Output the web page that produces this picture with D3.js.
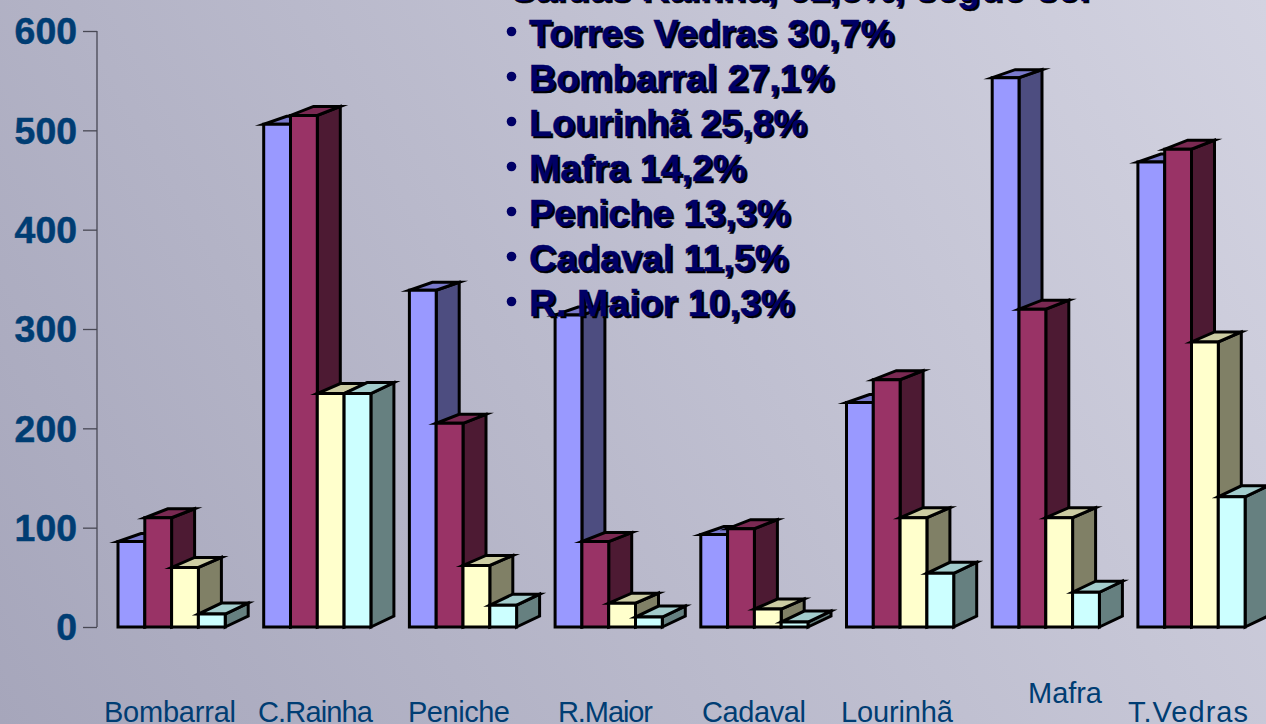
<!DOCTYPE html>
<html><head><meta charset="utf-8">
<script src="https://cdn.jsdelivr.net/npm/d3@7"></script>
<style>html,body{margin:0;padding:0;overflow:hidden;background:#bbbbcc}svg{display:block}</style>
</head><body><svg id="c" width="1266" height="724"></svg>
<script>
const categories = ["Bombarral","C.Rainha","Peniche","R.Maior","Cadaval","Lourinhã","Mafra","T.Vedras"];
const serieA = [86,506,339,314,93,226,553,468];
const serieB = [110,515,205,86,99,249,320,481];
const serieC = [60,235,62,24,18,110,110,287];
const serieD = [13,235,22,10,5,54,35,131];
const yTicks = [0,100,200,300,400,500,600];
const titleText = "Saídas Rainha, 61,5%, segue-se:";
const bullets = ["Torres Vedras 30,7%","Bombarral 27,1%","Lourinhã 25,8%","Mafra 14,2%","Peniche 13,3%","Cadaval 11,5%","R. Maior 10,3%"];

const W=1266,H=724;
const svg=d3.select("#c");
const defs=svg.append("defs");
const g=defs.append("linearGradient").attr("id","bg").attr("gradientUnits","userSpaceOnUse")
  .attr("x1",0).attr("y1",724).attr("x2",1266).attr("y2",0);
[[0,"#a6a6bb"],[1,"#d3d3e1"]].forEach(s=>g.append("stop").attr("offset",s[0]).attr("stop-color",s[1]));
svg.append("rect").attr("width",W).attr("height",H).attr("fill","url(#bg)");

const y=d3.scaleLinear().domain([0,600]).range([627,31]);
const x0=d3.scaleBand().domain(categories).range([118,1283.6]).paddingInner(0).paddingOuter(0);
const barW=26.8;
const series=[
 {vals:serieA,front:"#9999ff",side:"#4d4d80",top:"#7a7acc",dy:8},
 {vals:serieB,front:"#993366",side:"#4d1a33",top:"#7a2952",dy:9},
 {vals:serieC,front:"#ffffcc",side:"#808066",top:"#cccca3",dy:10},
 {vals:serieD,front:"#ccffff",side:"#668080",top:"#a3cccc",dy:11}];
const dx=23;
const bars=svg.append("g").attr("stroke","#000").attr("stroke-width",3).attr("stroke-linejoin","miter").attr("stroke-miterlimit",20);
categories.forEach((c,i)=>{
  series.forEach((s,k)=>{
    const l=x0(c)+k*barW,r=l+barW,t=y(s.vals[i]),b=y(0),dy=s.dy;
    const G=bars.append("g");
    const P=(pts,f)=>G.append("path").attr("d",d3.line()(pts)+"Z").attr("fill",f);
    P([[r,b],[r+dx,b-dy],[r+dx,t-dy],[r,t]],s.side);
    P([[l,t],[r,t],[r+dx,t-dy],[l+dx,t-dy]],s.top);
    P([[l,t],[r,t],[r,b],[l,b]],s.front);
  });
});

// y axis
const ax=svg.append("g").attr("transform","translate(97,0)").call(d3.axisLeft(y).tickValues(yTicks).tickSize(14).tickPadding(6));
ax.selectAll("path,line").attr("stroke","#484854").attr("stroke-width",1.3);
ax.select(".domain").attr("d","M0,31V627");
ax.selectAll("text").attr("fill","#003d73").attr("stroke","#003d73").attr("stroke-width",0.5).attr("font-family","'Liberation Sans'").attr("font-weight","bold").attr("font-size",37.4).attr("dy","0.34em");

// category labels
const catBox={"Bombarral":[104,132,721.5],"C.Rainha":[258,115,721.5],"Peniche":[408,102,721.5],"R.Maior":[558,95,721.5],"Cadaval":[702,104,721.5],"Lourinhã":[841,112,721.5],"Mafra":[1028,74,702.5],"T.Vedras":[1128,120,721.5]};
svg.append("g").selectAll("text").data(categories).join("text")
  .attr("x",d=>catBox[d][0]).attr("y",d=>catBox[d][2])
  .attr("textLength",d=>catBox[d][1]).attr("lengthAdjust","spacing")
  .attr("fill","#003d73")
  .attr("font-family","'Liberation Sans'").attr("font-size",29).text(d=>d);

// overlay text
const ts=svg.append("g").attr("font-family","'Liberation Sans'").attr("font-weight","bold");
const fs=37.6;
function shadowText(xp,yp,t,size){
  ts.append("text").attr("x",xp+2).attr("y",yp+2).attr("fill","#000").attr("stroke","#000").attr("stroke-width",0.5).attr("font-size",size).text(t);
  ts.append("text").attr("x",xp).attr("y",yp).attr("fill","#000066").attr("stroke","#000066").attr("stroke-width",0.5).attr("font-size",size).text(t);
}
shadowText(510,1,titleText,fs);
bullets.forEach((t,i)=>{
  const yy=46+i*45;
  ts.append("circle").attr("cx",511.5).attr("cy",yy-14.5).attr("r",4.8).attr("fill","#000066");
  shadowText(529,yy,t,fs);
});
</script></body></html>
